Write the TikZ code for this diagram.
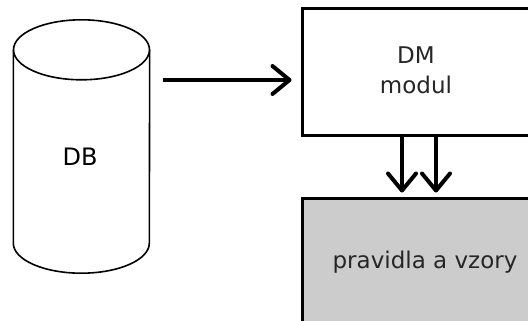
\documentclass[tikz,border=0pt]{standalone}
\usepackage{fontspec}
\setmainfont{DejaVu Sans}
\usetikzlibrary{arrows.meta}
\begin{document}
\begin{tikzpicture}[x=1pt,y=1pt,
  cyl/.style={line width=1.6pt, draw=black},
  block/.style={draw=black, line width=3pt, inner sep=0pt},
  flow/.style={line width=4pt,
    -{Straight Barb[length=17pt,width=28pt,line width=4pt,round]}},
  txt/.style={font=\fontsize{23}{30}\selectfont, text=black!85, align=center}]
  \useasboundingbox (0,0) rectangle (528,-321);
  \clip (0,0) rectangle (528,-321);

  % database cylinder
  \node[inner sep=0pt, minimum width=136pt, minimum height=253pt] (db) at (81.5,-146.5) {};
  \draw[cyl] ([yshift=-30pt]db.north) ellipse [x radius=68pt, y radius=30pt];
  \draw[cyl] ([yshift=-30pt]db.north west) -- ([yshift=30pt]db.south west)
    arc[start angle=180, end angle=360, x radius=68pt, y radius=30pt]
    -- ([yshift=-30pt]db.north east);
  \node[font=\fontsize{24}{28}\selectfont] (dblabel) at (80,-157) {DB};

  % DM module
  \node[block, fill=white, minimum width=228pt, minimum height=126pt] (dm) at (416,-72) {};
  \node[txt] (dmtext) at (416,-70) {DM\\modul};

  % rules and patterns
  \node[block, fill=black!20, minimum width=246pt, minimum height=128pt] (rules) at (425,-262) {};
  \node[txt] (rulestext) at (425,-262) {pravidla a vzory};

  % connectors
  \coordinate (lvl) at (0,-80);
  \draw[flow] ([xshift=13pt]db.east |- lvl) -- ([xshift=-9pt]dm.west |- lvl);
  \draw[flow] ([xshift=-14pt]dm.south) -- ([xshift=-23pt,yshift=4pt]rules.north);
  \draw[flow] ([xshift=20pt]dm.south) -- ([xshift=11pt,yshift=4pt]rules.north);
\end{tikzpicture}
\end{document}
